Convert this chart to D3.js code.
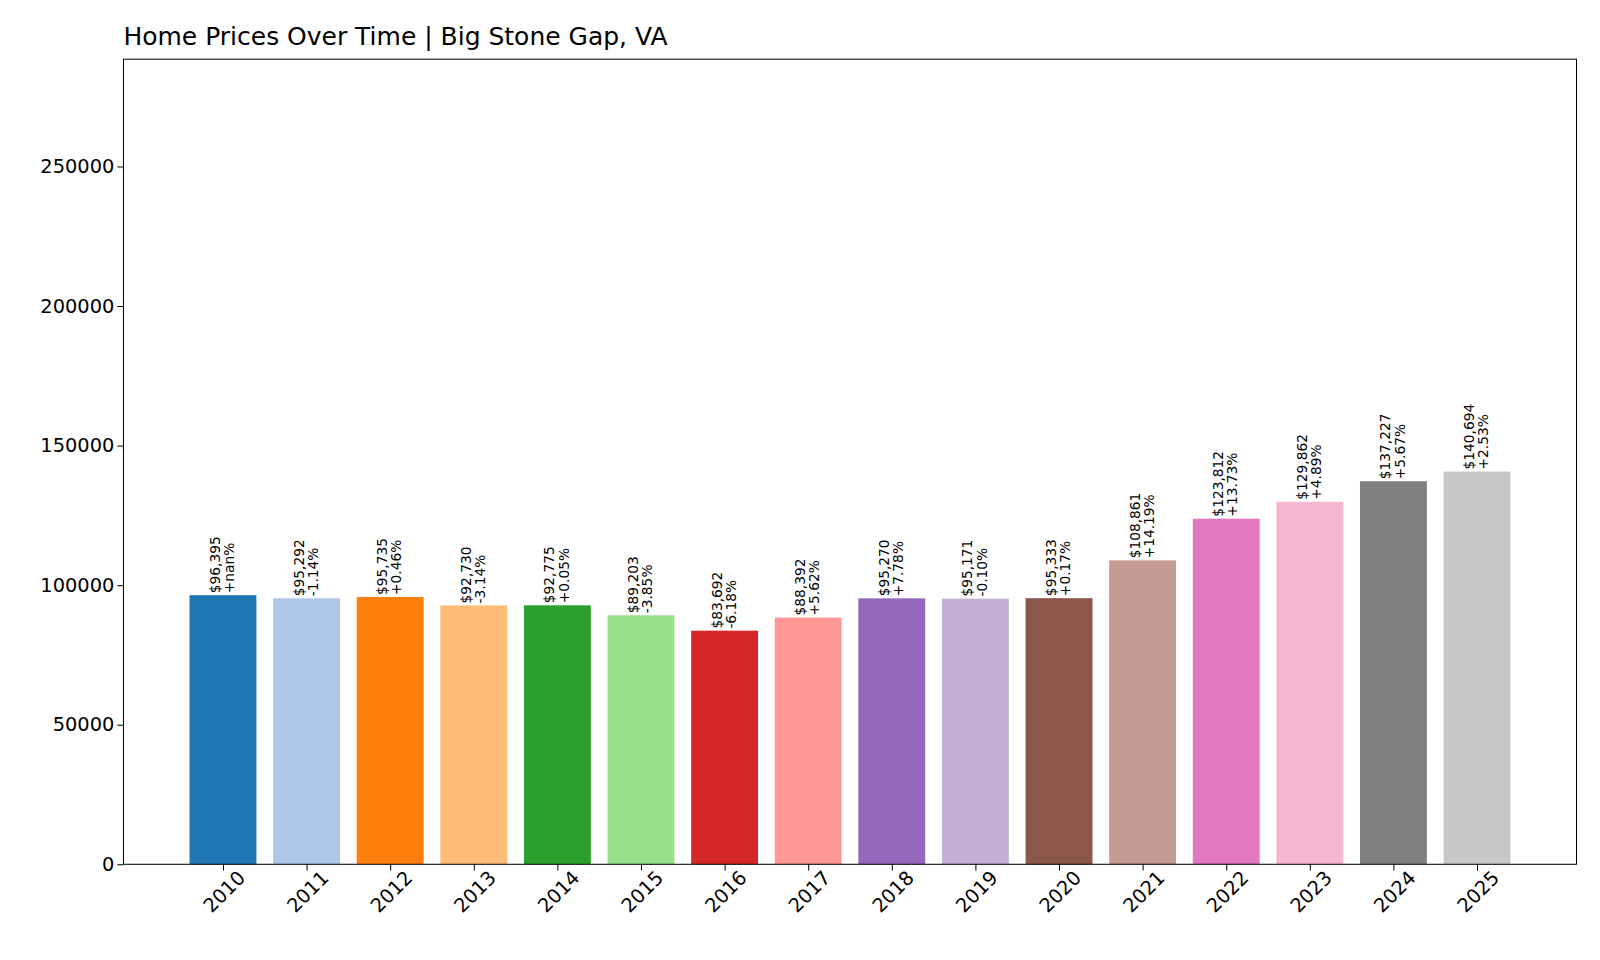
<!DOCTYPE html><html><head><meta charset="utf-8">
<script src="https://cdn.jsdelivr.net/npm/d3@7"></script>
<style>body{margin:0;background:#fff}text{font-family:"DejaVu Sans",sans-serif}</style></head><body>
<svg id="c" width="1600" height="960"></svg>
<script>
const years=["2010","2011","2012","2013","2014","2015","2016","2017","2018","2019","2020","2021","2022","2023","2024","2025"];
const prices=[96395,95292,95735,92730,92775,89203,83692,88392,95270,95171,95333,108861,123812,129862,137227,140694];
const changes=["+nan%","-1.14%","+0.46%","-3.14%","+0.05%","-3.85%","-6.18%","+5.62%","+7.78%","-0.10%","+0.17%","+14.19%","+13.73%","+4.89%","+5.67%","+2.53%"];
const yTicks=[0,50000,100000,150000,200000,250000];
const colors=["#1f77b4","#aec7e8","#ff7f0e","#ffbb78","#2ca02c","#98df8a","#d62728","#ff9896","#9467bd","#c5b0d5","#8c564b","#c49c94","#e377c2","#f7b6d2","#7f7f7f","#c7c7c7"];
const L=121,R=1545,T=58,B=847;
const svg=d3.select("#c").append("g").attr("transform","scale(1.0204)");
const x=d3.scaleLinear().domain([-0.4-0.79,15.4+0.79]).range([L,R]);
const y=d3.scaleLinear().domain([0,d3.max(prices)*2.05]).range([B,T]);
const bw=x(0.8)-x(0);
svg.selectAll("rect.b").data(prices).join("rect").attr("x",(d,i)=>x(i)-bw/2).attr("width",bw)
 .attr("y",d=>y(d)).attr("height",d=>B-y(d)).attr("fill",(d,i)=>colors[i]);
const lab=svg.selectAll("g.l").data(prices).join("g").attr("transform",(d,i)=>`translate(${x(i)},${y(d)-2}) rotate(-90)`);
lab.append("text").attr("x",0).attr("y",-3).attr("font-size",13.5).attr("textLength",null).text(d=>"$"+d3.format(",")(d));
lab.append("text").attr("x",0).attr("y",11).attr("font-size",13.5).text((d,i)=>changes[i]);
const ya=svg.append("g").attr("transform",`translate(${L},0)`).call(d3.axisLeft(y).tickValues(yTicks).tickFormat(d3.format("d")).tickSizeOuter(0).tickSize(6));
ya.selectAll("text").attr("font-size",19).attr("fill","#000");
const xa=svg.append("g").attr("transform",`translate(0,${B})`).call(d3.axisBottom(x).tickValues(d3.range(16)).tickFormat(i=>years[i]).tickSizeOuter(0).tickSize(6));
xa.selectAll("text").attr("font-size",19).attr("fill","#000").attr("text-anchor","end").attr("dx","0.3em").attr("dy","0.9em").attr("transform","rotate(-45)");
svg.selectAll(".domain").remove();
svg.append("rect").attr("x",L).attr("y",T).attr("width",R-L).attr("height",B-T).attr("fill","none").attr("stroke","#000");
svg.append("text").attr("x",L).attr("y",44).attr("font-size",24.5).text("Home Prices Over Time | Big Stone Gap, VA");
</script></body></html>
